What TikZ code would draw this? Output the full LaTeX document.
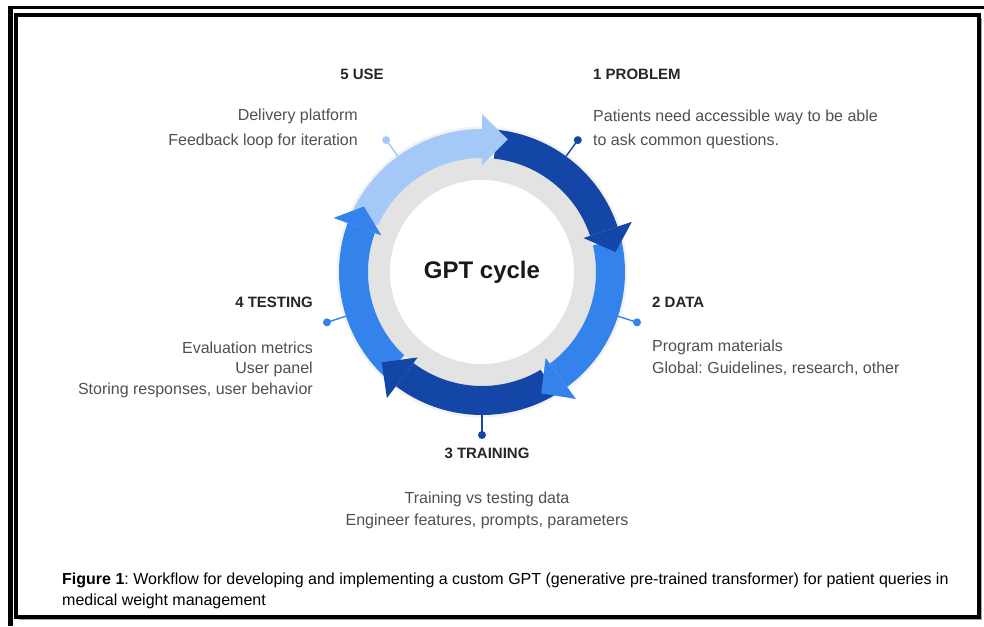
\documentclass[tikz,border=0pt]{standalone}
\usepackage{fontspec}
\setmainfont{Liberation Sans}
\usepackage{xcolor}
\usetikzlibrary{calc,positioning}
\tikzset{>=latex}
\frenchspacing
\definecolor{lightblue}{RGB}{164,200,248}
\definecolor{midblue}{RGB}{52,130,236}
\definecolor{darkblue}{RGB}{20,70,168}
\definecolor{ringgray}{RGB}{227,227,227}
\definecolor{txtgray}{RGB}{80,80,80}
\tikzset{
  head/.style={text=black!85,font=\fontsize{15}{18}\selectfont\bfseries,inner sep=0pt},
  body/.style={text=txtgray,font=\fontsize{16}{19}\selectfont,inner sep=0pt},
  capt/.style={text=black,font=\fontsize{16}{19}\selectfont,inner sep=0pt,anchor=west}
}
% body of one cycle arrow: start angle, base angle, colour
\newcommand{\arrowbody}[3]{%
  \fill[#3] ($(c)+(#1:143)$) arc[start angle=#1,end angle=#2,radius=143]
    -- ($(c)+(#2:114)$) arc[start angle=#2,end angle=#1,radius=114] -- cycle;}
% head of one cycle arrow: base angle, tip angle, colour
\newcommand{\arrowhead}[3]{%
  \fill[#3] ($(c)+(#1:158)$) -- ($(c)+(#2:135)$) -- ($(c)+(#1:107)$) -- cycle;}

\begin{document}
\begin{tikzpicture}[x=1pt,y=1pt]
\useasboundingbox (0,0) rectangle (984,626);
\fill[white] (0,0) rectangle (984,626);
% frame
\fill[black!35] (19,6) rectangle (982,608);
\fill[white] (16,9) rectangle (979,611);
\draw[line width=3.5] (16,9) rectangle (979,611);
\draw[line width=3] (8,618.5) -- (984,618.5);
\draw[line width=4.5] (10.5,620) -- (10.5,0);

% ring
\coordinate (c) at (482,354);
\fill[black!5] (c) circle (145.5);
\fill[ringgray] (c) circle (114);
\fill[white] (c) circle (92);

\arrowbody{156}{90}{lightblue}
\arrowbody{84}{18.5}{darkblue}
\arrowbody{13.5}{-53.5}{midblue}
\arrowbody{-59}{-127}{darkblue}
\arrowbody{-133}{-200}{midblue}
\arrowhead{90}{79}{lightblue}
\arrowhead{18.5}{8.5}{darkblue}
\arrowhead{-53.5}{-64}{midblue}
\arrowhead{-127}{-138}{darkblue}
\arrowhead{-200}{-209}{midblue}

% pins
\foreach \a/\col [count=\i] in {54/darkblue,-18/midblue,-90/darkblue,198/midblue,126/lightblue}{
  \coordinate (r\i) at ($(c)+(\a:143)$);
  \coordinate (p\i) at ($(c)+(\a:163)$);
  \draw[\col, line width=1.4] (r\i) -- (p\i);
  \fill[\col] (p\i) circle (4);
}

\node[font=\fontsize{24}{28}\selectfont\bfseries,text=black!90] (gpt) at (c) {GPT cycle};

\node[head] (h5) at (362,552) {5 USE};
\node[body,anchor=east] (u1) at (358,510) {Delivery platform};
\node[body,anchor=east] (u2) at (358,485) {Feedback loop for iteration};

\node[head,anchor=west] (h1) at (593,552) {1 PROBLEM};
\node[body,anchor=west] (a1) at (593,509) {Patients need accessible way to be able};
\node[body,anchor=west] (a2) at (593,485) {to ask common questions.};

\node[head,anchor=west] (h2) at (652,324) {2 DATA};
\node[body,anchor=west] (d1) at (652,279) {Program materials};
\node[body,anchor=west] (d2) at (652,257) {Global: Guidelines, research, other};

\node[head,anchor=east] (h4) at (313,324) {4 TESTING};
\node[body,anchor=east] (e1) at (313,278) {Evaluation metrics};
\node[body,anchor=east] (e2) at (313,257) {User panel};
\node[body,anchor=east] (e3) at (313,236) {Storing responses, user behavior};

\node[head] (h3) at (487,173) {3 TRAINING};
\node[body] (t1) at (487,127) {Training vs testing data};
\node[body] (t2) at (487,105) {Engineer features, prompts, parameters};

\node[capt] (f1) at (62,46) {\textbf{Figure 1}: Workflow for developing and implementing a custom GPT (generative pre-trained transformer) for patient queries in};
\node[capt] (f2) at (62,25) {medical weight management};
\end{tikzpicture}
\end{document}
